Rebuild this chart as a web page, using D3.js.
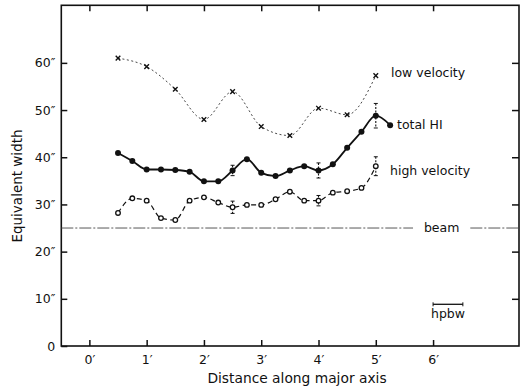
<!DOCTYPE html>
<html>
<head>
<meta charset="utf-8">
<script src="https://cdn.jsdelivr.net/npm/d3@7"></script>
<style>
  body { margin: 0; background: #fff; }
  text { font-family: "DejaVu Sans", sans-serif; fill: #111; }
</style>
</head>
<body>
<div id="chart"></div>
<script>
// distance along major axis (arcmin)
const distTotal = [0.5,0.75,1,1.25,1.5,1.75,2,2.25,2.5,2.75,3,3.25,3.5,3.75,4,4.25,4.5,4.75,5,5.25];
const totalHI   = [40.9,39.2,37.4,37.4,37.3,36.9,34.9,34.9,37.2,39.6,36.7,36.0,37.2,38.1,37.2,38.5,42.0,45.4,48.8,46.8];

const distHigh = [0.5,0.75,1,1.25,1.5,1.75,2,2.25,2.5,2.75,3,3.25,3.5,3.75,4,4.25,4.5,4.75,5];
const highVel  = [28.2,31.3,30.8,27.1,26.7,30.8,31.5,30.4,29.4,29.9,29.9,31.1,32.7,30.8,30.8,32.5,32.8,33.5,38.1];

const distLow = [0.5,1,1.5,2,2.5,3,3.5,4,4.5,5];
const lowVel  = [61.0,59.2,54.4,48.0,53.9,46.5,44.6,50.4,49.0,57.3];

// error bars: [distance, value, half-range]
const errTotal = [[2.5,37.2,1.1],[4,37.2,1.6],[5,48.8,2.6]];
const errHigh  = [[2.5,29.4,1.3],[4,30.8,1.1],[5,38.1,2.0]];

const beam = 25;
const hpbw = [6, 6.52];

const xTicks = [0,1,2,3,4,5,6];
const yTicks = [0,10,20,30,40,50,60];

const W = 521, H = 390;
const svg = d3.select('#chart').append('svg').attr('width', W).attr('height', H);

const x = d3.scaleLinear().domain([-0.49, 7.5]).range([61.3, 519]);
const y = d3.scaleLinear().domain([0, 72.2]).range([346, 5.3]);

const ink = '#111';

// frame
svg.append('rect')
  .attr('x', x(-0.49)).attr('y', y(72.2))
  .attr('width', x(7.5) - x(-0.49)).attr('height', y(0) - y(72.2))
  .attr('fill', 'none').attr('stroke', ink).attr('stroke-width', 1.6);

// axes with inward ticks
const fmtX = d => d + '\u2032';
const fmtY = d => d === 0 ? '0' : d + '\u2033';

const gx = svg.append('g').attr('transform', `translate(0,${y(0)})`)
  .call(d3.axisBottom(x).tickValues(xTicks).tickSize(-6).tickPadding(9).tickFormat(fmtX));
const gxt = svg.append('g').attr('transform', `translate(0,${y(72.2)})`)
  .call(d3.axisTop(x).tickValues(xTicks).tickSize(-6).tickFormat(''));
const gy = svg.append('g').attr('transform', `translate(${x(-0.49)},0)`)
  .call(d3.axisLeft(y).tickValues(yTicks).tickSize(-6).tickPadding(6).tickFormat(fmtY));
const gyr = svg.append('g').attr('transform', `translate(${x(7.5)},0)`)
  .call(d3.axisRight(y).tickValues(yTicks.filter(d => d > 0)).tickSize(-7).tickFormat(''));

[gx, gxt, gy, gyr].forEach(g => {
  g.select('.domain').remove();
  g.selectAll('.tick line').attr('stroke', ink).attr('stroke-width', 1.5);
  g.selectAll('.tick text').attr('font-size', 12.5).attr('font-family', '"DejaVu Sans", sans-serif').attr('fill', ink);
});

svg.append('text').attr('x', 297).attr('y', 383).attr('text-anchor', 'middle')
  .attr('font-size', 13.8).text('Distance along major axis');
svg.append('text').attr('transform', 'translate(22,186) rotate(-90)').attr('text-anchor', 'middle')
  .attr('font-size', 13.5).text('Equivalent width');

// beam line (gap for label)
const beamSeg = [[-0.49, 5.65], [6.65, 7.5]];
beamSeg.forEach(s => {
  svg.append('line').attr('x1', x(s[0])).attr('x2', x(s[1])).attr('y1', y(beam)).attr('y2', y(beam))
    .attr('stroke', '#444').attr('stroke-width', 0.9).attr('stroke-dasharray', '12,2,2,2');
});
svg.append('text').attr('x', x(6.15)).attr('y', y(beam) + 4).attr('text-anchor', 'middle')
  .attr('font-size', 12.5).text('beam');

const line = d3.line().x(d => x(d[0])).y(d => y(d[1])).curve(d3.curveMonotoneX);

// low velocity
const lowPts = distLow.map((d, i) => [d, lowVel[i]]);
svg.append('path').datum(lowPts).attr('d', line).attr('fill', 'none')
  .attr('stroke', '#333').attr('stroke-width', 0.9).attr('stroke-dasharray', '2,2.5');
svg.append('g').selectAll('path').data(lowPts).join('path')
  .attr('transform', d => `translate(${x(d[0])},${y(d[1])})`)
  .attr('d', 'M-2.3,-2.3L2.3,2.3M-2.3,2.3L2.3,-2.3')
  .attr('stroke', ink).attr('stroke-width', 1.4);

// high velocity
const highPts = distHigh.map((d, i) => [d, highVel[i]]);
svg.append('path').datum(highPts).attr('d', line).attr('fill', 'none')
  .attr('stroke', ink).attr('stroke-width', 1.2).attr('stroke-dasharray', '5,3.5');

// total HI
const totPts = distTotal.map((d, i) => [d, totalHI[i]]);
svg.append('path').datum(totPts).attr('d', line).attr('fill', 'none')
  .attr('stroke', ink).attr('stroke-width', 1.8);

// error bars
function errBars(data) {
  const g = svg.append('g');
  data.forEach(([d, v, e]) => {
    g.append('line').attr('x1', x(d)).attr('x2', x(d)).attr('y1', y(v + e)).attr('y2', y(v - e))
      .attr('stroke', ink).attr('stroke-width', 1.1).attr('stroke-dasharray', '2,1.5');
    [v + e, v - e].forEach(t => g.append('line')
      .attr('x1', x(d) - 2).attr('x2', x(d) + 2).attr('y1', y(t)).attr('y2', y(t))
      .attr('stroke', ink).attr('stroke-width', 1));
  });
}
errBars(errTotal);
errBars(errHigh);

svg.append('g').selectAll('circle').data(highPts).join('circle')
  .attr('cx', d => x(d[0])).attr('cy', d => y(d[1])).attr('r', 2.3)
  .attr('fill', '#fff').attr('stroke', ink).attr('stroke-width', 1.3);
svg.append('g').selectAll('circle').data(totPts).join('circle')
  .attr('cx', d => x(d[0])).attr('cy', d => y(d[1])).attr('r', 3)
  .attr('fill', ink);

// series labels
svg.append('text').attr('x', 391).attr('y', 77).attr('font-size', 12.5).text('low velocity');
svg.append('text').attr('x', 397).attr('y', 129).attr('font-size', 12.5).text('total HI');
svg.append('text').attr('x', 390).attr('y', 175).attr('font-size', 12.5).text('high velocity');

// hpbw bar
const yb = 304.3;
svg.append('line').attr('x1', x(hpbw[0])).attr('x2', x(hpbw[1])).attr('y1', yb).attr('y2', yb)
  .attr('stroke', ink).attr('stroke-width', 1.3);
hpbw.forEach(h => svg.append('line').attr('x1', x(h)).attr('x2', x(h)).attr('y1', yb - 2).attr('y2', yb + 2)
  .attr('stroke', ink).attr('stroke-width', 1));
svg.append('text').attr('x', (x(hpbw[0]) + x(hpbw[1])) / 2).attr('y', 318).attr('text-anchor', 'middle')
  .attr('font-size', 12.5).text('hpbw');
</script>
</body>
</html>
